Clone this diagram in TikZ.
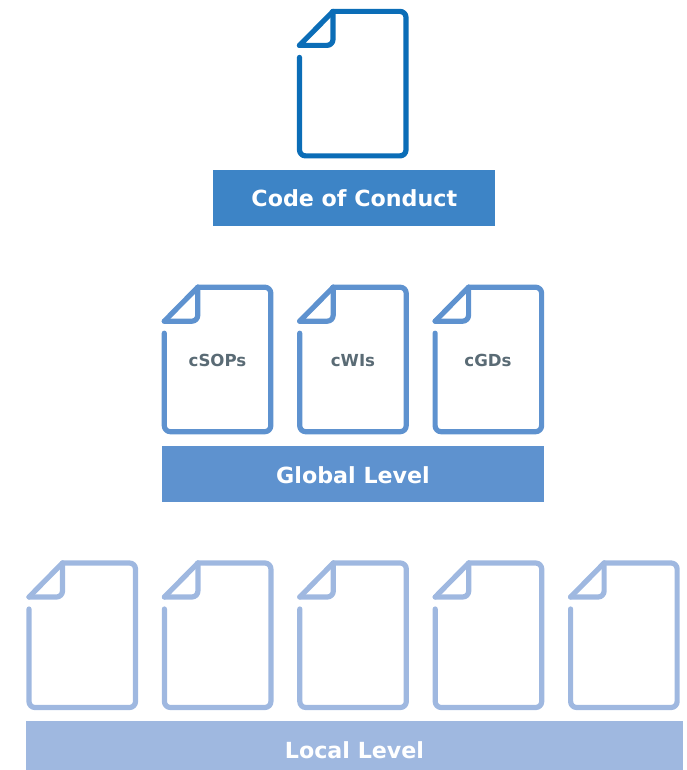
\documentclass[tikz,border=0pt]{standalone}
\usepackage{fontspec}
\setmainfont{DejaVu Sans}
\definecolor{topblue}{HTML}{0B6DB7}
\definecolor{topbar}{HTML}{3D84C6}
\definecolor{midblue}{HTML}{5E92CF}
\definecolor{lowblue}{HTML}{9FB8E0}
\definecolor{doctext}{HTML}{5A6B75}
\tikzset{
  x=1pt,y=-1pt,
  docline/.style={line width=5.2pt,line cap=round,line join=round},
  barbox/.style={rectangle,inner sep=0pt,text=white,text depth=0pt,font=\fontsize{22.2}{26}\bfseries},
  doclabel/.style={anchor=base,inner sep=0pt,text=doctext,font=\fontsize{16.6}{20}\bfseries},
  pics/docicon/.style={code={
    \draw[docline,#1,rounded corners=6pt]
      (33.5,-34) -- (106.5,-34) -- (106.5,110.5) -- (0,110.5) -- (0,12);
    \draw[docline,#1,rounded corners=6pt] (0,0) -- (33.5,0) -- (33.5,-34);
    \draw[docline,#1] (0,0) -- (33.5,-34);
  }}
}
\begin{document}
\begin{tikzpicture}
\useasboundingbox (0,0) rectangle (686,770);
\path (299.5,45.4) pic {docicon=topblue};
\foreach \px in {164.3,299.7,435.1}{\path (\px,321.2) pic {docicon=midblue};}
\foreach \px in {29,164.4,299.8,435.2,570.6}{\path (\px,597) pic {docicon=lowblue};}
\node[barbox,fill=topbar,minimum width=282pt,minimum height=56pt,text height=16.8pt] (codebar) at (354.3,198.3) {Code of Conduct};
\node[barbox,fill=midblue,minimum width=382pt,minimum height=55.7pt,text height=18.6pt] (globalbar) at (353,473.8) {Global Level};
\node[barbox,fill=lowblue,minimum width=656.5pt,minimum height=48.7pt,text height=25.4pt] (localbar) at (354.5,745.6) {Local Level};
\node[doclabel] (csops) at (217.5,366.3) {cSOPs};
\node[doclabel] (cwis) at (353,366.3) {cWIs};
\node[doclabel] (cgds) at (488,366.3) {cGDs};
\end{tikzpicture}
\end{document}
